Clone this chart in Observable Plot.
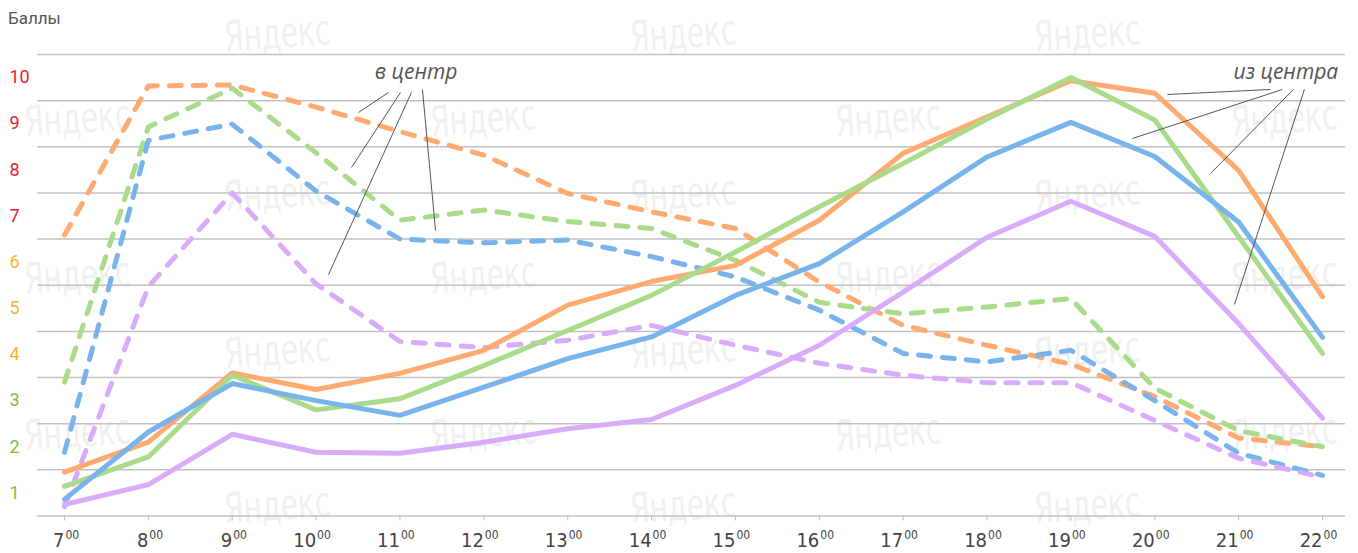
<!DOCTYPE html>
<html>
<head>
<meta charset="utf-8">
<script src="https://cdn.jsdelivr.net/npm/d3@7"></script>
<script src="https://cdn.jsdelivr.net/npm/@observablehq/plot@0.6"></script>
<style>
  html, body { margin: 0; padding: 0; background: #fff; }
  #wrap { position: relative; width: 1358px; height: 553px; overflow: hidden; }
  #wm, #chart { position: absolute; left: 0; top: 0; }
  #ylabel { position: absolute; left: 8px; top: 8px; font: 17px "Roboto", "Liberation Sans", sans-serif; color: #555; }
</style>
</head>
<body>
<div id="wrap">
  <svg id="wm" width="1358" height="553"></svg>
  <div id="chart"></div>
  <div id="ylabel">Баллы</div>
</div>
<script>
// ---- data ----
const hours = [7, 8, 9, 10, 11, 12, 13, 14, 15, 16, 17, 18, 19, 20, 21, 22];

// dashed lines: "в центр"
const toOrange = [6.09, 9.32, 9.34, 8.86, 8.33, 7.82, 6.99, 6.59, 6.23, 5.07, 4.13, 3.70, 3.29, 2.59, 1.69, 1.50];
const toGreen  = [2.90, 8.43, 9.27, 7.87, 6.41, 6.63, 6.38, 6.23, 5.54, 4.63, 4.38, 4.53, 4.71, 2.77, 1.85, 1.50];
const toBlue   = [1.38, 8.14, 8.49, 7.04, 6.00, 5.92, 5.98, 5.62, 5.18, 4.46, 3.52, 3.34, 3.59, 2.50, 1.36, 0.88];
const toPurple = [0.20, 4.97, 7.00, 5.03, 3.78, 3.65, 3.81, 4.13, 3.70, 3.31, 3.05, 2.89, 2.89, 2.07, 1.25, 0.84];

// solid lines: "из центра"
const fromOrange = [0.95, 1.60, 3.10, 2.74, 3.09, 3.59, 4.57, 5.08, 5.43, 6.41, 7.86, 8.65, 9.43, 9.16, 7.49, 4.75];
const fromGreen  = [0.64, 1.28, 3.05, 2.30, 2.54, 3.26, 4.02, 4.78, 5.72, 6.70, 7.64, 8.60, 9.50, 8.58, 6.05, 3.52];
const fromBlue   = [0.36, 1.82, 2.87, 2.50, 2.18, 2.79, 3.41, 3.88, 4.78, 5.47, 6.59, 7.78, 8.53, 7.79, 6.37, 3.87];
const fromPurple = [0.25, 0.68, 1.77, 1.38, 1.36, 1.60, 1.89, 2.09, 2.83, 3.70, 4.85, 6.04, 6.82, 6.06, 4.17, 2.12];

const scoreLabels = [1, 2, 3, 4, 5, 6, 7, 8, 9, 10];
const scoreColors = ["#78c040", "#78c040", "#78c040", "#f7b52e", "#f7b52e", "#f7b52e", "#e8202e", "#e8202e", "#e8202e", "#e8202e"];
const hourSuffix = "00";

const seriesColors = { orange: "#ffaa70", green: "#aadb8a", blue: "#78b4eb", purple: "#d8acfa" };

// annotation labels and leader lines, in data units (hour, score)
const annotLabels = [
  { text: "в центр", hour: 10.70, score: 9.46 },
  { text: "из центра", hour: 20.94, score: 9.46 }
];
const annotLinks = [
  { h1: 10.863, s1: 9.177, h2: 10.505, s2: 8.743 },
  { h1: 11.006, s1: 9.177, h2: 10.422, s2: 7.552 },
  { h1: 11.137, s1: 9.177, h2: 10.148, s2: 5.232 },
  { h1: 11.268, s1: 9.242, h2: 11.424, s2: 6.186 },
  { h1: 21.379, s1: 9.242, h2: 20.151, s2: 9.133 },
  { h1: 21.522, s1: 9.242, h2: 19.734, s2: 8.180 },
  { h1: 21.653, s1: 9.242, h2: 20.664, s2: 7.421 },
  { h1: 21.784, s1: 9.242, h2: 20.950, s2: 4.583 }
];

// ---- table built from the arrays ----
const seriesDefs = [
  { key: "to-orange", dir: "to", color: seriesColors.orange, values: toOrange },
  { key: "to-green", dir: "to", color: seriesColors.green, values: toGreen },
  { key: "to-blue", dir: "to", color: seriesColors.blue, values: toBlue },
  { key: "to-purple", dir: "to", color: seriesColors.purple, values: toPurple },
  { key: "from-orange", dir: "from", color: seriesColors.orange, values: fromOrange },
  { key: "from-green", dir: "from", color: seriesColors.green, values: fromGreen },
  { key: "from-blue", dir: "from", color: seriesColors.blue, values: fromBlue },
  { key: "from-purple", dir: "from", color: seriesColors.purple, values: fromPurple }
];
const rows = seriesDefs.flatMap(s => s.values.map((v, i) => ({ key: s.key, dir: s.dir, color: s.color, hour: hours[i], value: v })));
const xMin = 6.678, xMax = 22.274;

const labelFont = '"Liberation Sans Narrow", "DejaVu Sans Condensed", "Roboto", sans-serif';

const chart = Plot.plot({
  width: 1358,
  height: 553,
  marginLeft: 37,
  marginRight: 13,
  marginTop: 54,
  marginBottom: 37.5,
  style: { background: "transparent", overflow: "visible" },
  x: { domain: [xMin, xMax] },
  y: { domain: [0, 10], axis: null },
  marks: [
    Plot.gridY(scoreLabels, { stroke: "#c2c2c2", strokeOpacity: 1, strokeWidth: 1.5 }),
    Plot.ruleY([0], { stroke: "#c2c2c2", strokeWidth: 1.5 }),
    Plot.axisX({ ticks: hours, tickSize: 5, tickFormat: () => "", stroke: "#bdbdbd" }),
    Plot.text(hours, { x: d => d, y: 0, text: d => String(d), textAnchor: "end", dy: 25, fontSize: 20, fill: "#444", fontFamily: labelFont }),
    Plot.text(hours, { x: d => d, y: 0, text: () => hourSuffix, textAnchor: "start", dy: 19, dx: 1, fontSize: 12, fill: "#444", fontFamily: labelFont }),
    Plot.text(scoreLabels, { x: xMin, y: d => d - 0.5, text: d => String(d), textAnchor: "start", dx: -28, fontSize: 18, fill: (d, i) => scoreColors[i], fontFamily: '"Roboto", sans-serif' }),
    Plot.line(rows.filter(d => d.dir === "to"), { x: "hour", y: "value", z: "key", stroke: "color", strokeWidth: 5, strokeDasharray: "12,12", strokeLinecap: "round", strokeLinejoin: "round" }),
    Plot.line(rows.filter(d => d.dir === "from"), { x: "hour", y: "value", z: "key", stroke: "color", strokeWidth: 5, strokeLinecap: "round", strokeLinejoin: "round" }),
    Plot.link(annotLinks, { x1: "h1", y1: "s1", x2: "h2", y2: "s2", stroke: "#555", strokeWidth: 1 }),
    Plot.text(annotLabels, { x: "hour", y: "score", text: "text", textAnchor: "start", fontSize: 21, fontStyle: "italic", fill: "#555", fontFamily: '"Open Sans", sans-serif', lineAnchor: "bottom" })
  ]
});
document.getElementById("chart").appendChild(chart);

// ---- watermark layer (decoration) ----
const wm = d3.select("#wm");
const colA = [77, 483, 888, 1284], rowsA = [118, 275, 432];
const colB = [277, 683, 1087], rowsB = [33, 193, 350, 505];
function stamp(cx, cy) {
  wm.append("text")
    .attr("transform", `translate(${cx},${cy}) rotate(-4) scale(1,1.2)`)
    .attr("text-anchor", "middle").attr("dy", "0.35em")
    .attr("textLength", 106).attr("lengthAdjust", "spacingAndGlyphs")
    .attr("font-family", '"Liberation Sans Narrow", "DejaVu Sans Condensed", sans-serif')
    .attr("font-size", 35).attr("fill", "#f0f0f0").text("Яндекс");
}
colA.forEach(x => rowsA.forEach(y => stamp(x, y)));
colB.forEach(x => rowsB.forEach(y => stamp(x, y)));
</script>
</body>
</html>
